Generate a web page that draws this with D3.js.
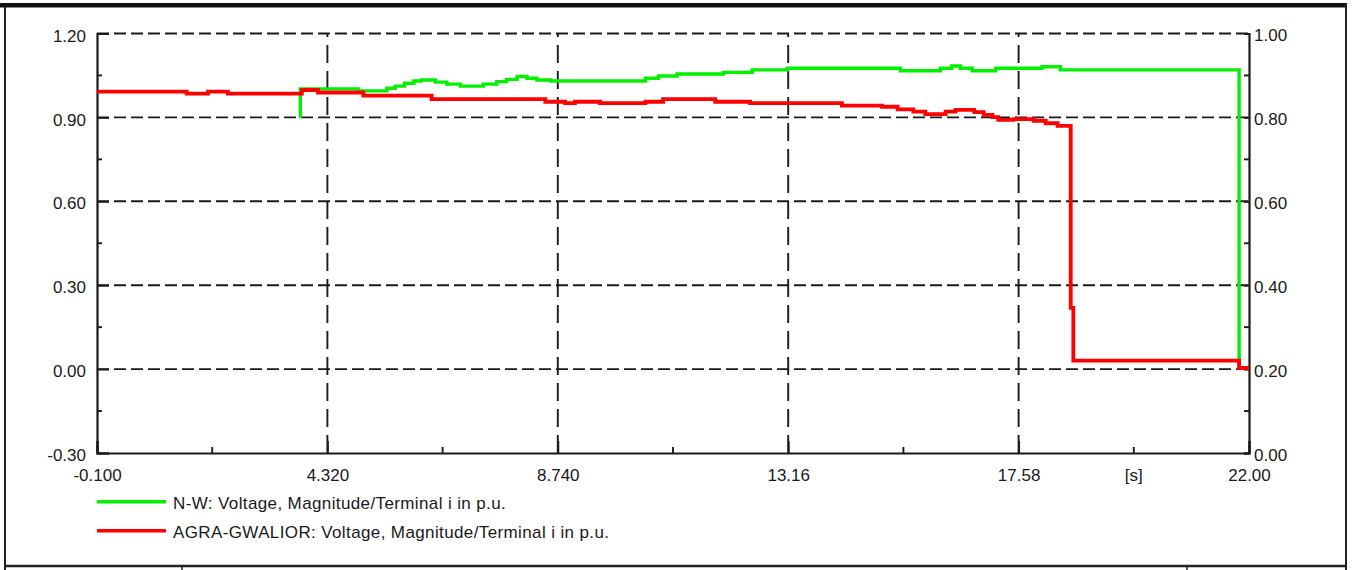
<!DOCTYPE html>
<html>
<head>
<meta charset="utf-8">
<script src="https://cdn.jsdelivr.net/npm/d3@7"></script>
<style>
  html, body { margin: 0; padding: 0; background: #fff; }
  svg { display: block; }
  text { font-family: "Liberation Sans", Arial, sans-serif; fill: #1a1a1a; }
</style>
</head>
<body>
<svg id="chart" width="1352" height="570"></svg>
<script>
// ---------- data ----------
const xTicks = [-0.1, 4.32, 8.74, 13.16, 17.58, 22.0];
const xTickLabels = ["-0.100", "4.320", "8.740", "13.16", "17.58", "22.00"];
const yTicks = [-0.3, 0.0, 0.3, 0.6, 0.9, 1.2];
const yTickLabels = ["-0.30", "0.00", "0.30", "0.60", "0.90", "1.20"];
const y2Ticks = [0.0, 0.2, 0.4, 0.6, 0.8, 1.0];
const y2TickLabels = ["0.00", "0.20", "0.40", "0.60", "0.80", "1.00"];
const xUnit = "[s]";

const seriesNames = [
  "N-W: Voltage, Magnitude/Terminal i in p.u.",
  "AGRA-GWALIOR: Voltage, Magnitude/Terminal i in p.u."
];

// N-W (green), step data: time [s], value [p.u.]
const greenT = [3.80, 3.80, 4.91, 5.46, 5.62, 5.80, 5.98, 6.12, 6.39, 6.61, 6.87, 7.31, 7.57, 7.76, 7.96, 8.15, 8.34, 8.60,
                10.42, 10.67, 11.03, 11.92, 12.47, 13.14, 15.31, 16.08, 16.30, 16.46, 16.69, 17.14, 18.03, 18.38, 21.81];
const greenV = [0.899, 1.002, 0.995, 1.004, 1.012, 1.022, 1.030, 1.034, 1.026, 1.019, 1.012, 1.019, 1.028, 1.036, 1.046, 1.040, 1.034, 1.030,
                1.040, 1.048, 1.055, 1.061, 1.070, 1.076, 1.067, 1.076, 1.084, 1.076, 1.067, 1.076, 1.081, 1.070, 0.034];

// AGRA-GWALIOR (red)
const redT = [-0.1, 1.62, 2.03, 2.41, 3.83, 4.14, 5.01, 6.32, 8.50, 8.88, 9.07, 9.55, 10.42, 10.76, 11.76, 12.43,
              14.19, 14.96, 15.26, 15.56, 15.79, 16.18, 16.37, 16.73, 16.91, 17.08, 17.19, 17.48, 17.87, 18.10, 18.33,
              18.58, 18.63, 21.81, 22.0];
const redV = [0.992, 0.985, 0.992, 0.985, 0.998, 0.989, 0.978, 0.965, 0.956, 0.951, 0.956, 0.951, 0.956, 0.965, 0.956, 0.951,
              0.942, 0.938, 0.929, 0.921, 0.912, 0.921, 0.927, 0.919, 0.909, 0.901, 0.891, 0.894, 0.888, 0.879, 0.870,
              0.219, 0.030, 0.004, 0.004];

const colors = ["#00f000", "#ff0000"];

// ---------- layout ----------
const svg = d3.select("#chart");
const L = 97, R = 1249, T = 33.5, B = 453;

const x = d3.scaleLinear().domain([-0.1, 22.0]).range([L, R]);
const y = d3.scaleLinear().domain([-0.3, 1.2]).range([B, T]);
const y2 = d3.scaleLinear().domain([0, 1]).range([B, T]);

// frame
svg.append("rect").attr("x", 0).attr("y", 3).attr("width", 1347).attr("height", 4.5).attr("fill", "#111");
svg.append("line").attr("x1", 5).attr("x2", 5).attr("y1", 6).attr("y2", 570).attr("stroke", "#222").attr("stroke-width", 2);
svg.append("line").attr("x1", 1346).attr("x2", 1346).attr("y1", 3).attr("y2", 570).attr("stroke", "#222").attr("stroke-width", 2);
svg.append("line").attr("x1", 5).attr("x2", 1346).attr("y1", 566).attr("y2", 566).attr("stroke", "#222").attr("stroke-width", 2.5);
[182, 1187].forEach(px => {
  svg.append("line").attr("x1", px).attr("x2", px).attr("y1", 566).attr("y2", 570).attr("stroke", "#222").attr("stroke-width", 1.5);
});

// grid
const grid = svg.append("g").attr("stroke", "#1a1a1a").attr("stroke-width", 1.9).attr("fill", "none");
yTicks.filter(v => v > -0.3).forEach(v => {
  grid.append("line").attr("x1", L).attr("x2", R).attr("y1", y(v)).attr("y2", y(v))
    .attr("stroke-dasharray", "12,5");
});
xTicks.filter(v => v > -0.1 && v < 22).forEach(v => {
  grid.append("line").attr("x1", x(v)).attr("x2", x(v)).attr("y1", B).attr("y2", T)
    .attr("stroke-dasharray", "18,8");
});

// axes
const axisG = svg.append("g");
const xAxis = d3.axisBottom(x).tickValues(xTicks).tickSize(-12).tickFormat((d, i) => xTickLabels[i]).tickPadding(22);
const gx = axisG.append("g").attr("transform", `translate(0,${B})`).call(xAxis);
const yAxis = d3.axisLeft(y).tickValues(yTicks).tickSize(-12).tickFormat((d, i) => yTickLabels[i]).tickPadding(23);
const gy = axisG.append("g").attr("transform", `translate(${L},0)`).call(yAxis);
const y2Axis = d3.axisRight(y2).tickValues(y2Ticks).tickSize(-5).tickFormat((d, i) => y2TickLabels[i]).tickPadding(10);
const gy2 = axisG.append("g").attr("transform", `translate(${R},0)`).call(y2Axis);

[gx, gy, gy2].forEach(g => {
  g.select(".domain").attr("stroke", "#1a1a1a").attr("stroke-width", 2.2);
  g.selectAll(".tick line").attr("stroke", "#1a1a1a").attr("stroke-width", 1.9);
  g.selectAll("text").attr("font-size", 17).attr("fill", "#1a1a1a")
    .attr("font-family", "'Liberation Sans', Arial, sans-serif");
});
gx.selectAll("text").attr("dy", "0.35em").attr("y", 22);
gy.selectAll("text").attr("x", -11).attr("dy", "0.45em");
gy2.selectAll("text").attr("x", 5).attr("dy", "0.42em");

// minor ticks
const minorX = d3.pairs(xTicks).map(p => (p[0] + p[1]) / 2);
const minorY = d3.pairs(yTicks).map(p => (p[0] + p[1]) / 2);
const minorY2 = d3.pairs(y2Ticks).map(p => (p[0] + p[1]) / 2);
const mg = svg.append("g").attr("stroke", "#1a1a1a").attr("stroke-width", 1.9);
minorX.forEach(v => mg.append("line").attr("x1", x(v)).attr("x2", x(v)).attr("y1", B).attr("y2", B - 6));
minorY.forEach(v => mg.append("line").attr("x1", L).attr("x2", L + 5).attr("y1", y(v)).attr("y2", y(v)));
minorY2.forEach(v => mg.append("line").attr("x1", R).attr("x2", R - 5).attr("y1", y2(v)).attr("y2", y2(v)));

// unit label
svg.append("text").attr("x", x((xTicks[4] + xTicks[5]) / 2)).attr("y", B + 22).attr("dy", "0.35em")
  .attr("text-anchor", "middle").attr("font-size", 17).text(xUnit);

// lines
const line = d3.line().x(d => x(d[0])).y(d => y(d[1])).curve(d3.curveStepAfter);
const greenData = greenT.map((t, i) => [t, greenV[i]]);
const redData = redT.map((t, i) => [t, redV[i]]);
svg.append("path").datum(greenData).attr("d", line).attr("fill", "none")
  .attr("stroke", colors[0]).attr("stroke-width", 3.4).attr("stroke-linejoin", "miter");
svg.append("path").datum(redData).attr("d", line).attr("fill", "none")
  .attr("stroke", colors[1]).attr("stroke-width", 3.8).attr("stroke-linejoin", "miter");

// legend
const legendY = [501.7, 530.7];
seriesNames.forEach((name, i) => {
  svg.append("line").attr("x1", 97).attr("x2", 166).attr("y1", legendY[i]).attr("y2", legendY[i])
    .attr("stroke", colors[i]).attr("stroke-width", 3.4);
  svg.append("text").attr("x", 173).attr("y", legendY[i] + 7).attr("font-size", 17)
    .attr("letter-spacing", "0.38px").text(name);
});
</script>
</body>
</html>
